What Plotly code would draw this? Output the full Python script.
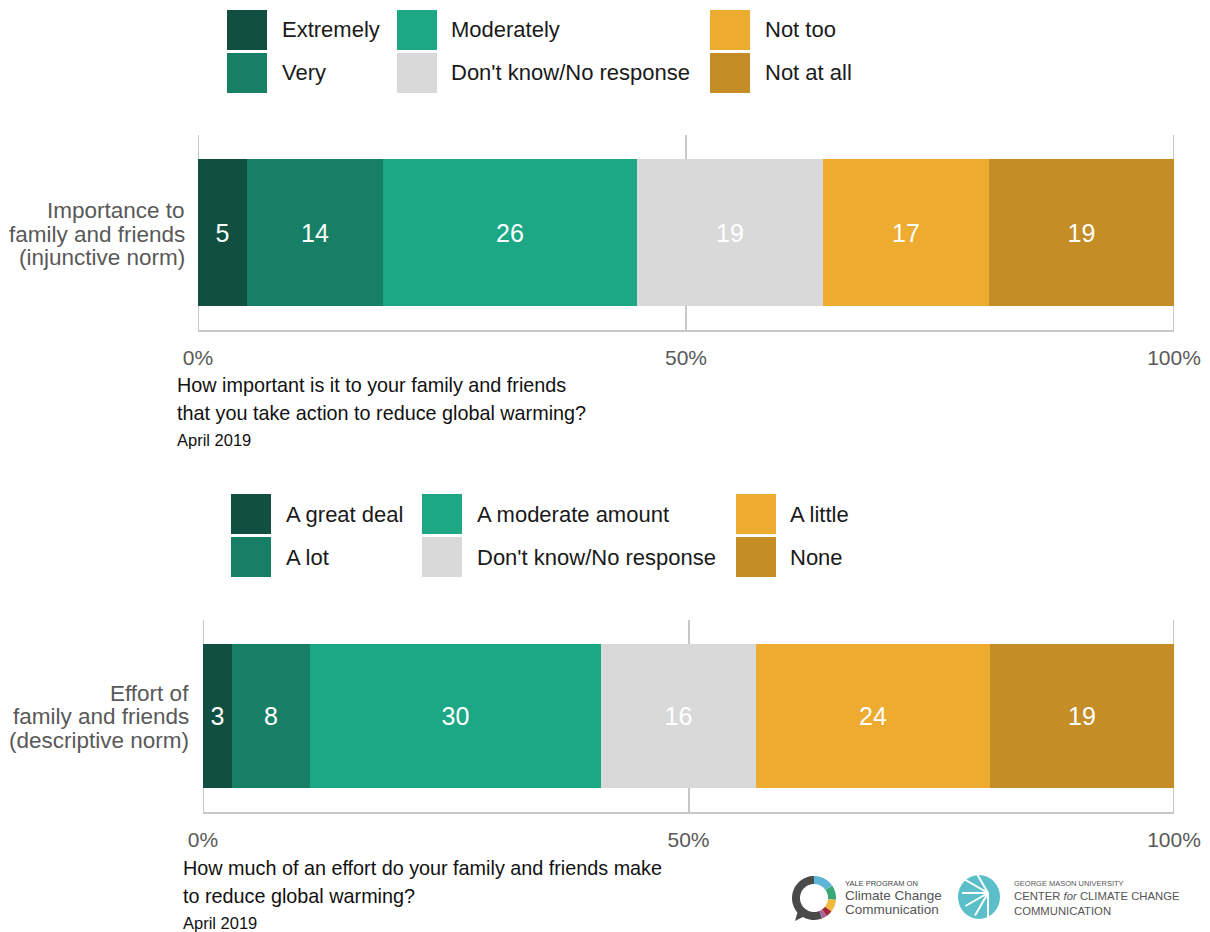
import numpy as np
import plotly.graph_objects as go

W, H = 1210, 932

# ---------------- data ----------------
panel1_row = "Importance to family and friends (injunctive norm)"
panel1_cats = ["Extremely", "Very", "Moderately", "Don't know/No response", "Not too", "Not at all"]
panel1_vals = [5, 14, 26, 19, 17, 19]

panel2_row = "Effort of family and friends (descriptive norm)"
panel2_cats = ["A great deal", "A lot", "A moderate amount", "Don't know/No response", "A little", "None"]
panel2_vals = [3, 8, 30, 16, 24, 19]

tick_vals = [0, 50, 100]
tick_text = ["0%", "50%", "100%"]

colors = ["#114f40", "#177f66", "#1ca885", "#d9d9d9", "#edab2f", "#c48d26"]

panel1_label_lines = ["Importance to", "family and friends", "(injunctive norm)"]
panel2_label_lines = ["Effort of", "family and friends", "(descriptive norm)"]
panel1_question = ["How important is it to your family and friends",
                   "that you take action to reduce global warming?"]
panel2_question = ["How much of an effort do your family and friends make",
                   "to reduce global warming?"]
date_text = "April 2019"


def fx(x):
    return x / W


def fy(y):
    return 1 - y / H


FONT = "Liberation Sans, Arial, sans-serif"
GRID = "#c8c8c8"

fig = go.Figure()

for cats, vals, xa, ya in [(panel1_cats, panel1_vals, "x", "y"),
                           (panel2_cats, panel2_vals, "x2", "y2")]:
    for c, v, col in zip(cats, vals, colors):
        fig.add_trace(go.Bar(
            x=[v], y=[0], orientation="h", name=c,
            marker=dict(color=col, line=dict(width=0)),
            text=[str(v)], textposition="inside", insidetextanchor="middle",
            textfont=dict(color="white", size=25, family=FONT),
            width=0.75, xaxis=xa, yaxis=ya, showlegend=False,
            hoverinfo="skip",
        ))

axis_common = dict(range=[0, 100], tickvals=tick_vals, ticktext=tick_text,
                   showgrid=True, gridcolor=GRID, gridwidth=2,
                   showline=True, linecolor=GRID, linewidth=2,
                   zeroline=False, ticks="", fixedrange=True, automargin=False,
                   tickfont=dict(size=21, color="#595959", family=FONT),
                   ticklabelstandoff=8)
yaxis_common = dict(range=[-0.5, 0.5], showticklabels=False, showgrid=False,
                    zeroline=False, showline=False, fixedrange=True, automargin=False)

fig.update_layout(
    template="none",
    width=W, height=H, autosize=False,
    margin=dict(l=0, r=0, t=0, b=0, pad=0),
    paper_bgcolor="white", plot_bgcolor="white",
    barmode="stack", bargap=0,
    font=dict(family=FONT),
    xaxis=dict(domain=[fx(198), fx(1174)], anchor="y", **axis_common),
    yaxis=dict(domain=[fy(330), fy(135)], anchor="x", **yaxis_common),
    xaxis2=dict(domain=[fx(203), fx(1174)], anchor="y2", **axis_common),
    yaxis2=dict(domain=[fy(812), fy(620)], anchor="x2", **yaxis_common),
)

shapes = []
annotations = []

# edge gridlines at 0% and 100%
for xr, yr in [("x", "y domain"), ("x2", "y2 domain")]:
    for xv in [tick_vals[0], tick_vals[-1]]:
        shapes.append(dict(type="line", xref=xr, yref=yr, x0=xv, x1=xv, y0=0, y1=1,
                           layer="below", line=dict(color=GRID, width=2)))


def add_text(x, y, text, size, color, xanchor="left", yanchor="middle"):
    annotations.append(dict(x=fx(x), y=fy(y), xref="paper", yref="paper",
                            text=text, showarrow=False, xanchor=xanchor,
                            yanchor=yanchor, font=dict(size=size, color=color, family=FONT)))


def legend(cats, sq_x, txt_x, rows_y):
    for i, (c, col) in enumerate(zip(cats, colors)):
        colidx = i // 2
        rowidx = i % 2
        x0 = sq_x[colidx]
        yc = rows_y[rowidx]
        shapes.append(dict(type="rect", xref="paper", yref="paper",
                           x0=fx(x0), x1=fx(x0 + 40), y0=fy(yc - 20), y1=fy(yc + 20),
                           fillcolor=col, line=dict(width=0)))
        add_text(txt_x[colidx], yc, c, 22, "#1a1a1a")


legend(panel1_cats, [227, 397, 710], [280, 449, 763], [30, 73])
legend(panel2_cats, [231, 422, 736], [284, 475, 788], [514, 557])

for i, line in enumerate(panel1_label_lines):
    add_text(187, 211 + 23 * i, line, 22.5, "#595959", xanchor="right")
for i, line in enumerate(panel2_label_lines):
    add_text(191, 693 + 23.5 * i, line, 22.5, "#595959", xanchor="right")

for i, line in enumerate(panel1_question):
    add_text(175, 385 + 28 * i, line, 19.8, "#111111")
add_text(175, 440, date_text, 16.5, "#111111")
for i, line in enumerate(panel2_question):
    add_text(181, 868 + 28 * i, line, 19.8, "#111111")
add_text(181, 923, date_text, 16.5, "#111111")

# ---------------- logos (decoration) ----------------
cx, cy, r = 814, 898, 18


def arc_path(a0, a1, rr, cxx, cyy):
    t = np.radians(np.linspace(a0, a1, 40))
    pts = [(fx(cxx + rr * np.cos(a)), fy(cyy - rr * np.sin(a))) for a in t]
    return "M " + " L ".join(f"{px:.5f},{py:.5f}" for px, py in pts)


shapes.append(dict(type="path", xref="paper", yref="paper",
                   path=arc_path(-68, -270, r, cx, cy),
                   line=dict(color="#4a4a4a", width=8)))
# tail
shapes.append(dict(type="path", xref="paper", yref="paper",
                   path=f"M {fx(799)},{fy(907)} L {fx(795)},{fy(921)} L {fx(809)},{fy(914)} Z",
                   fillcolor="#4a4a4a", line=dict(width=0)))
for a0, a1, col in [(90, 35, "#5bb5d9"), (35, -5, "#3aa876"), (-5, -38, "#f0b93a"),
                    (-38, -55, "#a3283b"), (-55, -68, "#a8649b")]:
    shapes.append(dict(type="path", xref="paper", yref="paper",
                       path=arc_path(a0, a1, r, cx, cy), line=dict(color=col, width=8)))

shapes.append(dict(type="circle", xref="paper", yref="paper",
                   x0=fx(958), x1=fx(1000), y0=fy(919), y1=fy(875),
                   fillcolor="#5bbfc9", line=dict(width=0)))
for ang in [150, 180, 210, 240, 270, 120]:
    a = np.radians(ang)
    shapes.append(dict(type="line", xref="paper", yref="paper",
                       x0=fx(988), y0=fy(893), x1=fx(988 + 26 * np.cos(a)), y1=fy(893 - 26 * np.sin(a)),
                       line=dict(color="white", width=2)))

add_text(843, 883, "YALE PROGRAM ON", 7.5, "#444444")
add_text(843, 895, "Climate Change", 13.5, "#555555")
add_text(843, 909, "Communication", 13.5, "#555555")
add_text(1012, 883, "GEORGE MASON UNIVERSITY", 7.5, "#555555")
add_text(1012, 896, "CENTER <i>for</i> CLIMATE CHANGE", 11.3, "#555555")
add_text(1012, 911, "COMMUNICATION", 11.3, "#555555")

fig.update_layout(shapes=shapes, annotations=annotations)

fig.write_html("out.html", config={"displayModeBar": False},
               post_script="document.body.style.margin='0';")
